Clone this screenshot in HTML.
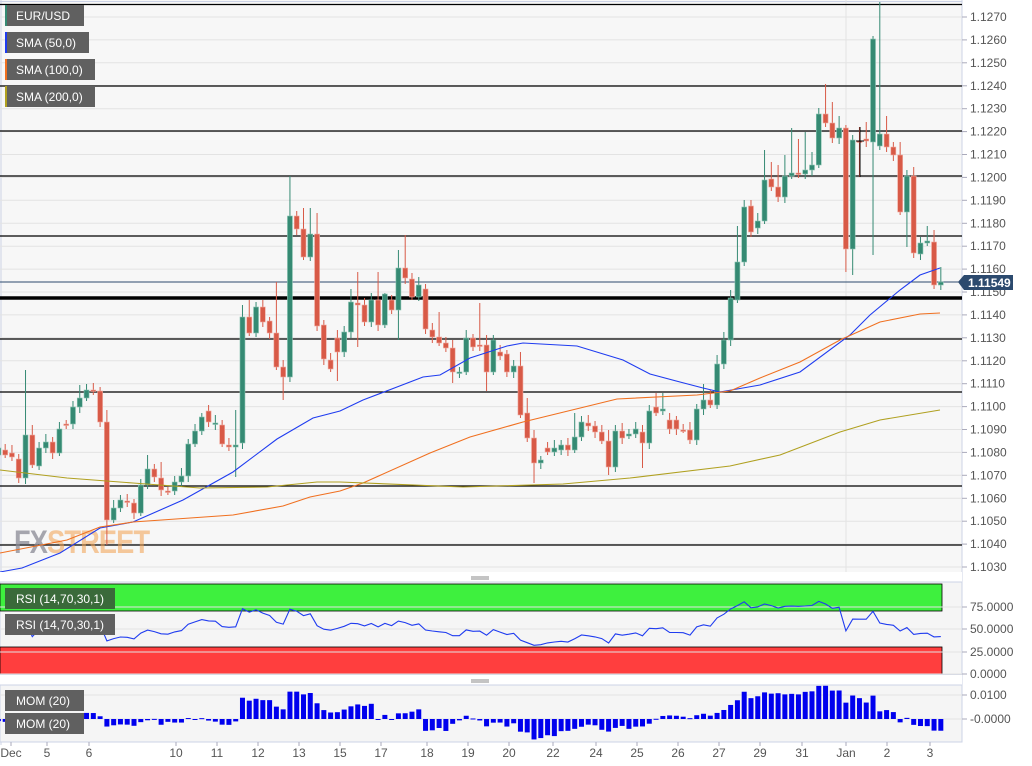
<!DOCTYPE html>
<html><head><meta charset="utf-8"><style>
body{margin:0;width:1032px;height:766px;background:#fff;overflow:hidden;font-family:"Liberation Sans",sans-serif}
svg{display:block}
</style></head><body>
<svg id="s" width="1032" height="766" xmlns="http://www.w3.org/2000/svg" font-family="Liberation Sans, sans-serif"></svg>
<script>
const S=document.getElementById('s');let h='';
const Y=p=>17+(1.1270-p)*22917;
// backgrounds
h+='<rect x="0" y="0" width="962" height="572" fill="#f7f7f7"/>';
h+='<line x1="0" y1="1.5" x2="962" y2="1.5" stroke="#ccd3e6"/>';
h+='<line x1="1" y1="0" x2="1" y2="745" stroke="#ccd3e6"/>';
h+='<line x1="962" y1="0" x2="962" y2="742" stroke="#ccd3e6"/>';
for(let p=1.1030;p<=1.12705;p+=0.001){let y=Y(p).toFixed(1);h+=`<line x1="0" y1="${y}" x2="962" y2="${y}" stroke="#e3e3e3"/>`;h+=`<line x1="962" y1="${y}" x2="967" y2="${y}" stroke="#aab"/><text x="970" y="${+y+4}" font-size="12" fill="#555">${p.toFixed(4)}</text>`;}
const dates=[[11,'Dec'],[47,'5'],[89,'6'],[176,'10'],[217,'11'],[258,'12'],[299,'13'],[340,'15'],[381,'17'],[427,'18'],[468,'19'],[509,'20'],[553,'22'],[596,'24'],[637,'25'],[678,'26'],[719,'27'],[760,'29'],[802,'31'],[846,'Jan'],[887,'2'],[930,'3']];
dates.forEach(d=>{if(d[1]=='Jan'){h+=`<line x1="846" y1="0" x2="846" y2="742" stroke="#e3e3e3"/>`;}});
// horizontal black lines
[4.5,86,131,176,236,339,392,486,545].forEach(y=>h+=`<line x1="0" y1="${y}" x2="962" y2="${y}" stroke="#000" stroke-width="1.3"/>`);
h+='<line x1="0" y1="298" x2="962" y2="298" stroke="#000" stroke-width="3.5"/>';
h+='<line x1="0" y1="282" x2="962" y2="282" stroke="#2c4a6e" stroke-width="1"/>';
// watermark
h+='<text x="14" y="553" font-size="32" font-weight="bold" fill="#8a8a95" opacity="0.75" transform="scale(0.85,1)" transform-origin="14 553" letter-spacing="-1">FX<tspan fill="#f0a050" opacity="0.75">STREET</tspan></text>';
// candles [o,c,h,l]
const C=[[455,448],[450,455],[453,457],[459,478],[478,435,370],[435,465,425],[466,448],[448,442],[442,453],[453,429],[424,425],[424,407],[407,398,385],[398,390,384],[390,391],[391,422],[422,520,410,545],[520,508],[508,500],[501,502],[503,513],[513,485],[485,469,455],[469,477],[478,490,462],[491,492],[491,482],[482,476],[476,444],[444,431],[431,417],[411,422],[424,423],[425,444],[445,447],[447,445,410,477],[443,317,305],[317,333,300],[333,307,302],[307,322],[321,333],[333,367,282],[367,377,360,400],[377,216,176],[216,229,211],[229,257,208],[257,234,208],[234,326,213],[325,359],[360,369],
[338,352,330,381],[352,332],[332,302,289],[303,305,272,347],[305,322],[322,300,293],[300,325,272],[325,294,293],[300,310],[310,268,250,340],[268,278,235],[279,297],[297,285],[289,329],[330,337],[337,343,312],[343,348],[348,372,340,383],[372,372],[372,338,330],[338,347],[345,346,303],[345,372,335,391],[372,340,335],[352,356],[354,372],[372,366],[366,415,352],[413,438,398],[438,463,430,483],[463,460],[448,452],[452,448],[450,445],[445,450],[450,437,413],[437,422],[423,426],[426,432],[432,441],[441,467,430,475],[467,431],[431,438],[436,434],[434,429],[432,443,425,468],[443,411],[407,413,393],[411,409,393],[420,429],[420,429],[430,430],[430,440],[440,409],[409,400,384],[400,405,390],[405,364,355],[364,340],
[340,298,290],[300,262,226],[262,207,200],[206,232],[228,221],[221,180,150],[179,187,162],[187,197,165],[197,176,155],[176,173,128],[173,174,139],[174,170,132],[170,165,152],[165,114,108],[114,123,84],[123,138,102],[138,128,116],[128,249,125,272],[249,140,135,275],[141,141,127,177],[139,141,122],[142,39,36,255],[146,134,2,150],[134,147,116],[147,155,142],[155,212,142],[212,176,170,247],[176,253,167],[254,243],[243,241,226],[242,285,230],[285,282,267]];
const closes=[];
C.forEach((c,i)=>{const x=-1.6+i*6.78;let [o,cl,hi,lo]=c;const t=Math.min(o,cl),b=Math.max(o,cl);
 if(hi===undefined)hi=t-4-(i*7%5);if(lo===undefined)lo=b+4-(i*3%4)+2;
 const g=cl<o||(cl==o&&i%2==0);const col=g?'#358a73':'#d85a47';
 h+=`<line x1="${x}" y1="${hi}" x2="${x}" y2="${lo}" stroke="${col}"/>`;
 h+=`<rect x="${x-2.5}" y="${t}" width="5" height="${Math.max(b-t,1.5)}" fill="${col}" stroke="${g?'#8cc4b2':'#f0aaa0'}" stroke-width="0.6"/>`;
 closes.push(cl);});
h+='<line x1="860" y1="127" x2="860" y2="177" stroke="#000"/><line x1="856" y1="141" x2="864" y2="141" stroke="#000"/>';
// SMAs
const pl=(pts,c)=>h+=`<polyline fill="none" stroke="${c}" stroke-width="1.1" points="${pts}"/>`;
pl('0,572 22,568 60,553 100,528 133,522 183,500 233,472 277,439 313,418 340,411 363,400 397,387 423,377 440,375 470,358 507,346 523,343 577,346 623,360 650,374 680,382 703,388 720,392 760,385 800,372 850,335 870,315 900,290 920,275 940,268','#1f3cf0');
pl('0,553 67,540 100,527 133,522 233,515 283,506 310,497 340,491 363,483 430,453 470,437 523,422 617,399 697,395 730,391 760,378 800,362 840,340 880,322 920,314 940,313','#f07020');
pl('0,470 67,478 133,483 200,488 267,487 317,482 340,482 463,487 563,484 630,478 730,466 780,455 840,432 880,420 940,410','#b0a020');
// price label
h+='<path d="M958,282 L964,275 L1013,275 L1013,290 L964,290 Z" fill="#2c4a6e"/><text x="968" y="287" font-size="12" font-weight="bold" fill="#fff">1.11549</text>';
// legends
const lg=(y,w,t,c)=>h+=`<rect x="5" y="${y}" width="${w}" height="21" fill="#606060"/><rect x="5" y="${y}" width="2" height="21" fill="${c}"/><text x="16" y="${y+15}" font-size="12" fill="#fff">${t}</text>`;
lg(5,79,'EUR/USD','#358a73');lg(32,84,'SMA (50,0)','#1f3cf0');lg(59,90,'SMA (100,0)','#f07020');lg(86,90,'SMA (200,0)','#b0a020');
// separators
h+='<rect x="0" y="572" width="962" height="10" fill="#fff"/><line x1="471" y1="577" x2="489" y2="577" stroke="#888"/><line x1="471" y1="579" x2="489" y2="579" stroke="#888"/>';
// RSI panel
h+='<rect x="0" y="582" width="962" height="93" fill="#f5f5f5" stroke="#ccd3e6"/>';
h+='<rect x="0" y="584" width="942" height="27" fill="#3ef03e" stroke="#000" stroke-width="0.8"/>';
h+='<rect x="0" y="647" width="942" height="27" fill="#ff3e3e" stroke="#000" stroke-width="0.8"/>';
[[607,'75.0000'],[629,'50.0000'],[652,'25.0000'],[674,'0.0000']].forEach(a=>{h+=`<line x1="0" y1="${a[0]}" x2="962" y2="${a[0]}" stroke="#e3e3e3"/><line x1="962" y1="${a[0]}" x2="967" y2="${a[0]}" stroke="#aab"/><text x="970" y="${a[0]+4}" font-size="12" fill="#555">${a[1]}</text>`});
let ag=0,al=0,r=[];for(let i=1;i<closes.length;i++){let d=closes[i-1]-closes[i];let g=Math.max(d,0),l=Math.max(-d,0);if(i<=14){ag+=g/14;al+=l/14;}else{ag=(ag*13+g)/14;al=(al*13+l)/14;}let rs=al==0?100:100-100/(1+ag/al);r.push([(-1.6+i*6.78).toFixed(1),(674-rs*0.893).toFixed(1)]);}
pl(r.slice(3).map(p=>p.join(',')).join(' '),'#1f3cf0');
const lg2=(y,w,t,bg)=>h+=`<rect x="5" y="${y}" width="${w}" height="21" fill="${bg}"/><text x="16" y="${y+15}" font-size="12" fill="#fff">${t}</text>`;
lg2(588,110,'RSI (14,70,30,1)','#3a6a3a');lg2(614,110,'RSI (14,70,30,1)','#606060');
h+='<rect x="0" y="675" width="962" height="10" fill="#fff"/><line x1="471" y1="680" x2="489" y2="680" stroke="#888"/><line x1="471" y1="682" x2="489" y2="682" stroke="#888"/>';
// MOM
h+='<rect x="0" y="685" width="962" height="57" fill="#f5f5f5" stroke="#ccd3e6"/>';
[[695,'0.0100'],[719,'-0.0000']].forEach(a=>{h+=`<line x1="0" y1="${a[0]}" x2="962" y2="${a[0]}" stroke="#e3e3e3"/><line x1="962" y1="${a[0]}" x2="967" y2="${a[0]}" stroke="#aab"/><text x="970" y="${a[0]+4}" font-size="12" fill="#555">${a[1]}</text>`});
closes.forEach((c,i)=>{const ref=i>=20?closes[i-20]:closes[0]+ (i<10?-20:0);let v=(ref-c)*24/229;const x=-1.6+i*6.78;h+=`<rect x="${x-2.5}" y="${v>0?719-v:719}" width="5" height="${Math.max(Math.abs(v),1)}" fill="#0000ee"/>`;});
lg2(690,79,'MOM (20)','#606060');lg2(713,79,'MOM (20)','#606060');
// dates
dates.forEach(d=>h+=`<line x1="${d[0]}" y1="742" x2="${d[0]}" y2="746" stroke="#aab"/><text x="${d[0]}" y="757" font-size="12" fill="#555" text-anchor="middle">${d[1]}</text>`);
S.innerHTML=h;
</script>
</body></html>
